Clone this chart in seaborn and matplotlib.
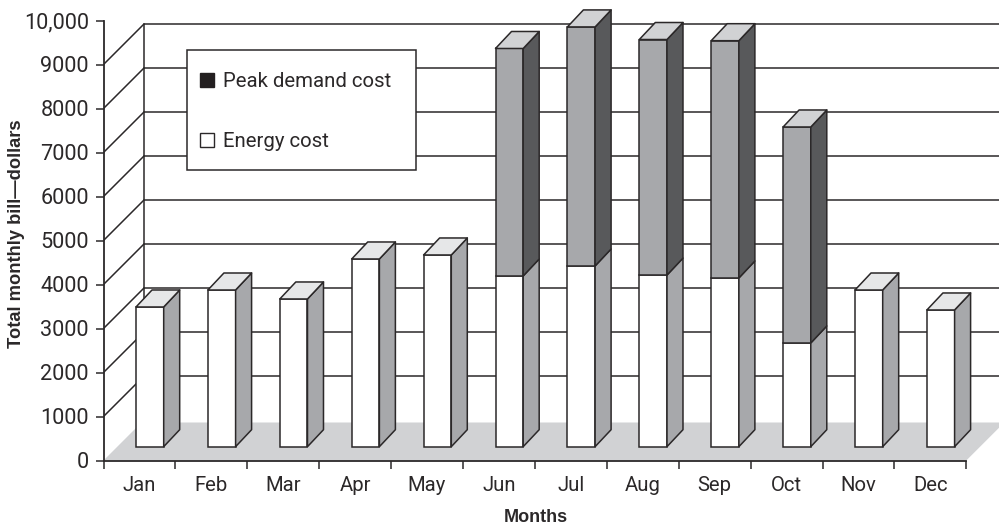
import matplotlib
matplotlib.use("Agg")
import matplotlib.pyplot as plt
from matplotlib.patches import Patch, Polygon, Rectangle
import numpy as np
import pandas as pd
import seaborn as sns

months = ["Jan", "Feb", "Mar", "Apr", "May", "Jun", "Jul", "Aug", "Sep", "Oct", "Nov", "Dec"]
energy_cost = [3175, 3561, 3357, 4266, 4357, 3880, 4107, 3900, 3834, 2357, 3561, 3107]
peak_cost = [0, 0, 0, 0, 0, 5170, 5433, 5354, 5393, 4909, 0, 0]
y_ticks = [0, 1000, 2000, 3000, 4000, 5000, 6000, 7000, 8000, 9000, 10000]
y_tick_labels = ["0", "1000", "2000", "3000", "4000", "5000", "6000", "7000", "8000", "9000", "10,000"]

W, H = 999, 527
INK = "#2b2829"
WHITE = "#ffffff"
MID = "#a7a8ab"
DARK = "#58595b"
PALE = "#d1d2d4"
PALER = "#e6e7e8"
FLOOR = "#d1d2d4"
PX_X = 71.9          # pixels per month
PX_Y = 44 / 1000     # pixels per dollar
BAR_LIFT = 314       # bars stand on the floor, a little behind the front edge
BAR_DX, BAR_DY = 16 / PX_X, 17 / PX_Y     # depth of each bar
WALL_DX, WALL_DY = 40.5 / PX_X, 40.5 / PX_Y  # depth of the grid
FLOOR_DY = 38 / PX_Y
FLOOR_DX = 38 / PX_X
LW = 1.1
BOLD_FAMILY = ["Liberation Sans"]

sns.set_theme(style="white")
plt.rcParams["font.family"] = ["Roboto", "DejaVu Sans"]
plt.rcParams["text.color"] = INK
plt.rcParams["axes.labelcolor"] = INK

df = pd.DataFrame({"month": months, "energy": energy_cost, "peak": peak_cost})
df["total"] = df["energy"] + df["peak"]

fig = plt.figure(figsize=(W / 100, H / 100), dpi=100)
ax = fig.add_axes([103.5 / W, (H - 460.5) / H, (W - 103.5) / W, 460.5 / H])


def fig_xy(px, py):
    return px / W, 1 - py / H


# Front faces: energy on the floor, peak demand stacked above it.
style = dict(width=0.385, edgecolor=INK, linewidth=LW, zorder=3)
sns.barplot(data=df, x="month", y="energy", order=months, color=WHITE, saturation=1,
            bottom=BAR_LIFT, ax=ax, **style)
energy_faces = list(ax.patches)
stacked = df[df["peak"] > 0]
sns.barplot(data=stacked, x="month", y="peak", order=months, color=MID, saturation=1,
            bottom=(stacked["energy"] + BAR_LIFT).to_numpy(), ax=ax, **style)
peak_faces = [p for p in ax.patches if p not in energy_faces]

left = (103.5 - 149.85) / PX_X
ax.set_xlim(left, left + (W - 103.5) / PX_X)
ax.set_ylim(0, 460.5 / PX_Y)


def extrude(face, side_color, top_color=None):
    """Add the right side, and optionally the top, of a bar's front face."""
    x0, x1 = face.get_x(), face.get_x() + face.get_width()
    y0, y1 = face.get_y(), face.get_y() + face.get_height()
    ax.add_patch(Polygon([(x1, y0), (x1 + BAR_DX, y0 + BAR_DY), (x1 + BAR_DX, y1 + BAR_DY), (x1, y1)],
                         facecolor=side_color, edgecolor=INK, lw=LW, zorder=3, joinstyle="round"))
    if top_color:
        ax.add_patch(Polygon([(x0, y1), (x1, y1), (x1 + BAR_DX, y1 + BAR_DY), (x0 + BAR_DX, y1 + BAR_DY)],
                             facecolor=top_color, edgecolor=INK, lw=LW, zorder=3, joinstyle="round"))


peak_by_month = dict(zip(stacked["month"], peak_faces))
for month, face in zip(months, energy_faces):
    if month in peak_by_month:
        extrude(face, MID)
        extrude(peak_by_month[month], DARK, PALE)
    else:
        extrude(face, MID, PALER)

# Floor, back wall and the grid that wraps from the axis onto the wall.
end = left + 12
wall_x = left + WALL_DX
ax.add_patch(Polygon([(left, 0), (end, 0), (end + FLOOR_DX, FLOOR_DY), (left + FLOOR_DX, FLOOR_DY)],
                     facecolor=FLOOR, edgecolor="none", zorder=2.5))
for value in y_ticks[1:10]:
    ax.plot([left, wall_x], [value, value + WALL_DY], color=INK, lw=LW, zorder=2)
    ax.plot([wall_x, end + WALL_DX], [value + WALL_DY] * 2, color=INK, lw=LW, zorder=2)
ax.plot([wall_x, wall_x], [WALL_DY, 9000 + WALL_DY], color=INK, lw=LW, zorder=2)

# Axes
sns.despine(ax=ax, top=True, right=True)
ax.spines["left"].set_bounds(0, 10000)
ax.spines["bottom"].set_bounds(left, end)
for side in ("left", "bottom"):
    ax.spines[side].set_color(INK)
    ax.spines[side].set_linewidth(LW + 0.2)
    ax.spines[side].set_zorder(4)
ax.set_yticks(y_ticks, y_tick_labels)
ax.set_xticks(left + np.arange(13), [""] * 13)
ax.set_xticks(left + 0.5 + np.arange(12), months, minor=True)
ax.tick_params(axis="y", which="major", left=True, length=6, width=LW, color=INK, pad=4.5, labelsize=15.6, labelcolor=INK)
ax.tick_params(axis="x", which="major", bottom=True, length=6, width=LW, color=INK)
ax.tick_params(axis="x", which="minor", bottom=False, length=0, pad=11.5, labelsize=14.6, labelcolor=INK)
ax.set_xlabel("")
ax.set_ylabel("")
fig.text(*fig_xy(536, 518), "Months", family=BOLD_FAMILY, weight="bold", fontsize=13, ha="center", va="center")
fig.text(*fig_xy(16.5, 234), "Total monthly bill—dollars", family=BOLD_FAMILY, weight="bold", fontsize=13.2,
         rotation=90, ha="center", va="center")

# Legend panel
x0, y0 = fig_xy(186.7, 170)
x1, y1 = fig_xy(416, 49.7)
fig.add_artist(Rectangle((x0, y0), x1 - x0, y1 - y0, transform=fig.transFigure,
                         facecolor=WHITE, edgecolor=INK, lw=LW, zorder=5))
legend = fig.legend(handles=[Patch(facecolor="#231f20", edgecolor="#231f20", label="Peak demand cost"),
                             Patch(facecolor=WHITE, edgecolor=INK, label="Energy cost")],
                    loc="upper left", bbox_to_anchor=fig_xy(200, 72), frameon=False, fontsize=14.7,
                    handlelength=0.68, handleheight=0.68, handletextpad=0.45, labelspacing=2.0,
                    borderpad=0, borderaxespad=0)
legend.set_zorder(6)

fig.savefig("out.png", dpi=100)
